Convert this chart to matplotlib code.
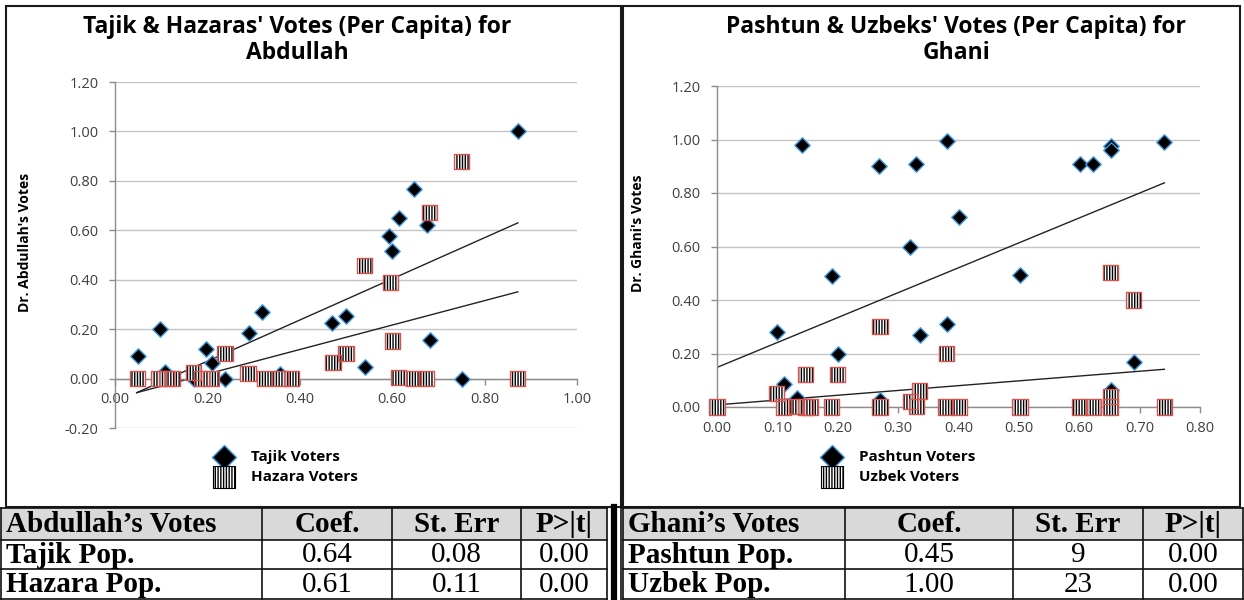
import matplotlib
matplotlib.use("Agg")
import matplotlib.pyplot as plt
from matplotlib.lines import Line2D
from matplotlib.patches import Rectangle
from matplotlib.ticker import FormatStrFormatter

# Abdullah chart (x = population share, y = vote share)
tajik_x = [0.049, 0.098, 0.108, 0.17, 0.198, 0.209, 0.238, 0.289, 0.318, 0.357, 0.47,
           0.50, 0.541, 0.594, 0.60, 0.614, 0.648, 0.675, 0.682, 0.75, 0.872]
tajik_y = [0.09, 0.20, 0.025, 0.0, 0.12, 0.062, 0.0, 0.185, 0.27, 0.02, 0.225,
           0.252, 0.048, 0.578, 0.518, 0.65, 0.768, 0.62, 0.157, 0.0, 1.0]
hazara_x = [0.048, 0.095, 0.112, 0.125, 0.17, 0.188, 0.208, 0.238, 0.288, 0.323, 0.357,
            0.382, 0.472, 0.50, 0.54, 0.596, 0.60, 0.613, 0.646, 0.675, 0.681, 0.75, 0.872]
hazara_y = [0.0, 0.0, 0.0, 0.0, 0.026, 0.0, 0.0, 0.10, 0.022, 0.0, 0.0,
            0.0, 0.066, 0.10, 0.457, 0.388, 0.152, 0.005, 0.0, 0.0, 0.673, 0.878, 0.0]
abd_fit_x = [0.047, 0.872]
abd_fit_a = [-0.057, 0.63]
abd_fit_b = [-0.057, 0.351]

# Ghani chart
pashtun_x = [0.099, 0.111, 0.132, 0.14, 0.19, 0.20, 0.269, 0.27, 0.32, 0.33, 0.337,
             0.381, 0.381, 0.40, 0.502, 0.601, 0.623, 0.652, 0.652, 0.652, 0.691, 0.741]
pashtun_y = [0.28, 0.087, 0.035, 0.98, 0.49, 0.20, 0.90, 0.025, 0.60, 0.908, 0.27,
             0.996, 0.31, 0.712, 0.492, 0.91, 0.91, 0.975, 0.96, 0.062, 0.168, 0.99]
uzbek_x = [0.0, 0.098, 0.11, 0.132, 0.146, 0.146, 0.154, 0.19, 0.20, 0.27, 0.27, 0.32,
           0.331, 0.336, 0.38, 0.379, 0.402, 0.502, 0.601, 0.623, 0.652, 0.652, 0.652,
           0.69, 0.741]
uzbek_y = [0.0, 0.05, 0.0, 0.003, 0.122, 0.0, 0.0, 0.0, 0.122, 0.30, 0.0, 0.022,
           0.003, 0.06, 0.20, 0.0, 0.0, 0.0, 0.0, 0.0, 0.0, 0.038, 0.502,
           0.40, 0.0]
gha_fit_x = [0.0, 0.741]
gha_fit_a = [0.148, 0.838]
gha_fit_b = [0.008, 0.141]

# regression tables
abd_header = ["Abdullah\u2019s Votes", "Coef.", "St. Err", "P>|t|"]
abd_rows = [["Tajik Pop.", "0.64", "0.08", "0.00"],
            ["Hazara Pop.", "0.61", "0.11", "0.00"]]
gha_header = ["Ghani\u2019s Votes", "Coef.", "St. Err", "P>|t|"]
gha_rows = [["Pashtun Pop.", "0.45", "9", "0.00"],
            ["Uzbek Pop.", "1.00", "23", "0.00"]]

W, H = 1244, 600


def fx(px):
    return px / W


def fy(py):
    return 1 - py / H


plt.rcParams['font.family'] = ['Open Sans', 'DejaVu Sans']
plt.rcParams['hatch.linewidth'] = 1.0
fig = plt.figure(figsize=(12.44, 6.0), dpi=100)

DIA_EDGE = '#3d9be0'
SQ_EDGE = '#d9534f'
TICK_COL = '#404040'


def style(ax, xmax, xticks, yticks):
    ax.set_xlim(0, xmax)
    ax.set_ylim(yticks[0], yticks[-1])
    ax.set_xticks(xticks)
    ax.set_yticks(yticks)
    ax.xaxis.set_major_formatter(FormatStrFormatter('%.2f'))
    ax.yaxis.set_major_formatter(FormatStrFormatter('%.2f'))
    for s in ['top', 'right']:
        ax.spines[s].set_visible(False)
    ax.spines['bottom'].set_position(('data', 0))
    for s in ['left', 'bottom']:
        ax.spines[s].set_color('#8c8c8c')
        ax.spines[s].set_linewidth(1.0)
    ax.grid(axis='y', color='#c4c4c4', lw=1.0)
    ax.set_axisbelow(True)
    ax.tick_params(axis='both', colors='#8c8c8c', labelcolor=TICK_COL,
                   labelsize=10.5, length=4, width=1)
    ax.tick_params(axis='y', pad=8)
    ax.tick_params(axis='x', pad=6)
    ax.patch.set_alpha(0)


def points(ax, dx, dy, sx, sy):
    ax.scatter(dx, dy, marker='D', s=62, c='black', edgecolors=DIA_EDGE,
               linewidths=1.0, zorder=3, clip_on=False)
    ax.scatter(sx, sy, marker='s', s=120, facecolor='white', edgecolors='black',
               hatch='||||||', linewidths=0.0, zorder=4, clip_on=False)
    ax.scatter(sx, sy, marker='s', s=120, facecolor='none', edgecolors=SQ_EDGE,
               linewidths=1.0, zorder=5, clip_on=False)


def legend(ax, labels, x, y):
    h1 = ax.scatter([], [], marker='D', s=150, c='black', edgecolors=DIA_EDGE,
                    linewidths=1.0)
    h2 = ax.scatter([], [], marker='s', s=260, facecolor='white',
                    edgecolors='black', hatch='||||||', linewidths=0.8)
    ax.legend([h1, h2], labels, loc='upper left', bbox_to_anchor=(fx(x), fy(y)),
              bbox_transform=fig.transFigure, frameon=False,
              prop=dict(weight='bold', size=11), handletextpad=1.1,
              labelspacing=0.4, borderpad=0, borderaxespad=0,
              handlelength=1.3, scatterpoints=1)


# left chart
ax1 = fig.add_axes([fx(115), fy(428), fx(577 - 115), (428 - 82) / H])
style(ax1, 1.0, [0, 0.2, 0.4, 0.6, 0.8, 1.0],
      [-0.2, 0, 0.2, 0.4, 0.6, 0.8, 1.0, 1.2])
ax1.plot(abd_fit_x, abd_fit_a, color='#222222', lw=1.0, zorder=2)
ax1.plot(abd_fit_x, abd_fit_b, color='#222222', lw=1.0, zorder=2)
points(ax1, tajik_x, tajik_y, hazara_x, hazara_y)
ax1.set_ylabel("Dr. Abdullah's Votes", fontsize=10, fontweight='bold')
ax1.yaxis.set_label_coords(-0.18, 0.535)
legend(ax1, ["Tajik Voters", "Hazara Voters"], 214, 450)
fig.text(fx(297), fy(40), "Tajik & Hazaras' Votes (Per Capita) for\nAbdullah",
         ha='center', va='center', fontsize=16.5, fontweight='bold', linespacing=1.15)

# right chart
ax2 = fig.add_axes([fx(717), fy(407), fx(1200 - 717), (407 - 86) / H])
style(ax2, 0.8, [0, 0.1, 0.2, 0.3, 0.4, 0.5, 0.6, 0.7, 0.8],
      [0, 0.2, 0.4, 0.6, 0.8, 1.0, 1.2])
ax2.plot(gha_fit_x, gha_fit_a, color='#222222', lw=1.0, zorder=2)
ax2.plot(gha_fit_x, gha_fit_b, color='#222222', lw=1.0, zorder=2)
points(ax2, pashtun_x, pashtun_y, uzbek_x, uzbek_y)
ax2.set_ylabel("Dr. Ghani's Votes", fontsize=10, fontweight='bold')
ax2.yaxis.set_label_coords(-0.15, 0.542)
legend(ax2, ["Pashtun Voters", "Uzbek Voters"], 822, 450)
fig.text(fx(956), fy(40), "Pashtun & Uzbeks' Votes (Per Capita) for\nGhani",
         ha='center', va='center', fontsize=16.5, fontweight='bold', linespacing=1.15)

# panel frames
for x0, x1 in [(6, 621), (623, 1240)]:
    fig.add_artist(Rectangle((fx(x0), fy(507)), fx(x1 - x0), (507 - 6) / H,
                             transform=fig.transFigure, fill=False,
                             edgecolor='#1a1a1a', lw=1.5))


# tables
def hline(x0, x1, y, lw=1.2, color='#111111'):
    fig.add_artist(Line2D([fx(x0), fx(x1)], [fy(y), fy(y)],
                          transform=fig.transFigure, color=color, lw=lw))


def vline(x, y0, y1, lw=1.2, color='#111111'):
    fig.add_artist(Line2D([fx(x), fx(x)], [fy(y0), fy(y1)],
                          transform=fig.transFigure, color=color, lw=lw))


row_y = [508, 540, 569, 599]


def table(cols, header, rows):
    fig.add_artist(Rectangle((fx(cols[0]), fy(row_y[1])), fx(cols[-1] - cols[0]),
                             (row_y[1] - row_y[0]) / H, transform=fig.transFigure,
                             facecolor='#d9d9d9', edgecolor='none'))
    for y in row_y:
        hline(cols[0], cols[-1], y)
    for x in cols:
        vline(x, row_y[0], row_y[-1])
    lines = [header] + rows
    for r, cells in enumerate(lines):
        yc = (row_y[r] + row_y[r + 1]) / 2 + 1
        for c, txt in enumerate(cells):
            bold = r == 0 or c == 0
            if c == 0:
                fig.text(fx(cols[0] + 5), fy(yc), txt, ha='left', va='center',
                         family='Liberation Serif', fontsize=21,
                         fontweight='bold')
            else:
                fig.text(fx((cols[c] + cols[c + 1]) / 2), fy(yc), txt,
                         ha='center', va='center', family='Liberation Serif',
                         fontsize=21, fontweight='bold' if bold else 'normal')


table([1, 262, 392, 521, 607], abd_header, abd_rows)
table([623, 845, 1013, 1143, 1243], gha_header, gha_rows)
vline(614, 507, 600, lw=4.5, color='black')
vline(621, 507, 600, lw=1.2)

fig.savefig("out.png", dpi=100, facecolor='white')
